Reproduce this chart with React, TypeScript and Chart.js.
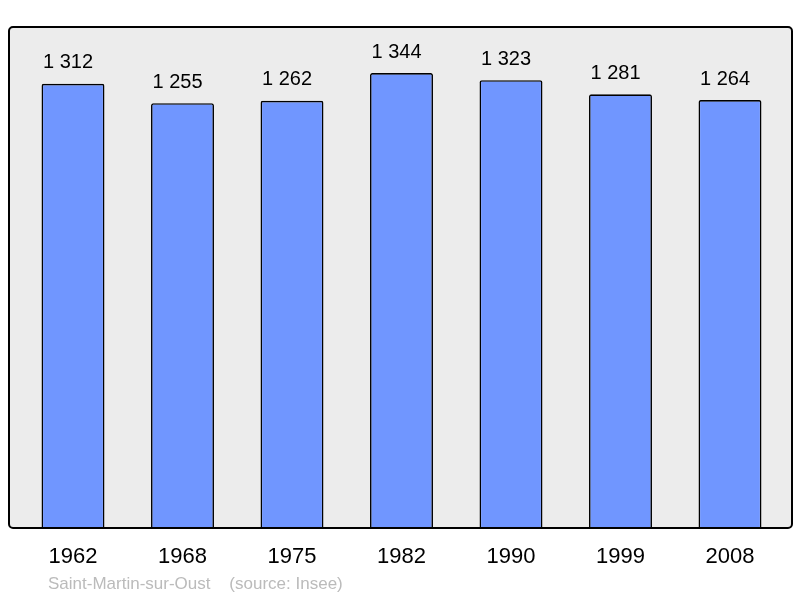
// @ts-nocheck
import {useEffect, useRef} from "react";
import {Chart, registerables} from "chart.js";

Chart.register(...registerables);

const years = ["1962", "1968", "1975", "1982", "1990", "1999", "2008"];
const population = [1312, 1255, 1262, 1344, 1323, 1281, 1264];
const sourceText = "Saint-Martin-sur-Oust    (source: Insee)";

const FONT = "'Liberation Sans', Arial, sans-serif";

const fmt = (v) => String(v).replace(/\B(?=(\d{3})+(?!\d))/g, " ");

// grey rounded panel behind the bars
const panelPlugin = {
    id: "panel",
    beforeDraw(chart) {
        const {ctx, chartArea} = chart;
        const x0 = 9, x1 = 792, y0 = 27, y1 = chartArea.bottom;
        ctx.save();
        ctx.beginPath();
        ctx.roundRect(x0, y0, x1 - x0, y1 - y0, 4);
        ctx.fillStyle = "#ececec";
        ctx.fill();
        ctx.restore();
    },
    afterDatasetsDraw(chart) {
        const {ctx, chartArea} = chart;
        const x0 = 9, x1 = 792, y0 = 27, y1 = chartArea.bottom;
        ctx.save();
        ctx.beginPath();
        ctx.roundRect(x0, y0, x1 - x0, y1 - y0, 4);
        ctx.lineWidth = 2;
        ctx.strokeStyle = "#000";
        ctx.stroke();

        // value labels (sit a little left of the bar centre, like the original)
        const meta = chart.getDatasetMeta(0);
        ctx.fillStyle = "#000";
        ctx.font = "20px " + FONT;
        ctx.textAlign = "center";
        ctx.textBaseline = "middle";
        meta.data.forEach((bar, i) => {
            ctx.fillText(fmt(population[i]), bar.x - 5, bar.y - 21);
        });

        // source line
        ctx.fillStyle = "#bbbbbb";
        ctx.font = "17px " + FONT;
        ctx.textAlign = "left";
        ctx.fillText(sourceText, 48, 584);
        ctx.restore();
    },
};

export default function App() {
    const chartRef = useRef(null);
    const chartInstance = useRef(null);

    useEffect(() => {
        const ctx = chartRef.current?.getContext("2d");
        chartInstance.current = new Chart(ctx, {
            type: "bar",
            data: {
                labels: years,
                datasets: [
                    {
                        data: population,
                        backgroundColor: "#7096ff",
                        borderColor: "#000",
                        borderWidth: 1.6,
                        borderRadius: 2,
                        borderSkipped: "bottom",
                        barPercentage: 0.575,
                        categoryPercentage: 1,
                    },
                ],
            },
            options: {
                animation: false,
                responsive: false,
                devicePixelRatio: 1,
                layout: {
                    padding: {left: 18.25, right: 15.25, top: 27, bottom: 0},
                },
                plugins: {
                    legend: {display: false},
                    tooltip: {enabled: false},
                },
                scales: {
                    x: {
                        grid: {display: false},
                        border: {display: false},
                        ticks: {
                            color: "#000",
                            font: {size: 22, family: FONT},
                            padding: 8,
                            maxRotation: 0,
                        },
                        afterFit: (s) => {
                            s.height = 70;
                        },
                    },
                    y: {
                        display: false,
                        min: 0,
                        max: 1480,
                    },
                },
            },
            plugins: [panelPlugin],
        });

        return () => {
            chartInstance.current.destroy();
        };
    }, []);

    return (
        <div style={{position: "fixed", left: 0, top: 0, width: 800, height: 598, background: "#fff"}}>
            <canvas ref={chartRef} width={800} height={598}/>
        </div>
    );
}
